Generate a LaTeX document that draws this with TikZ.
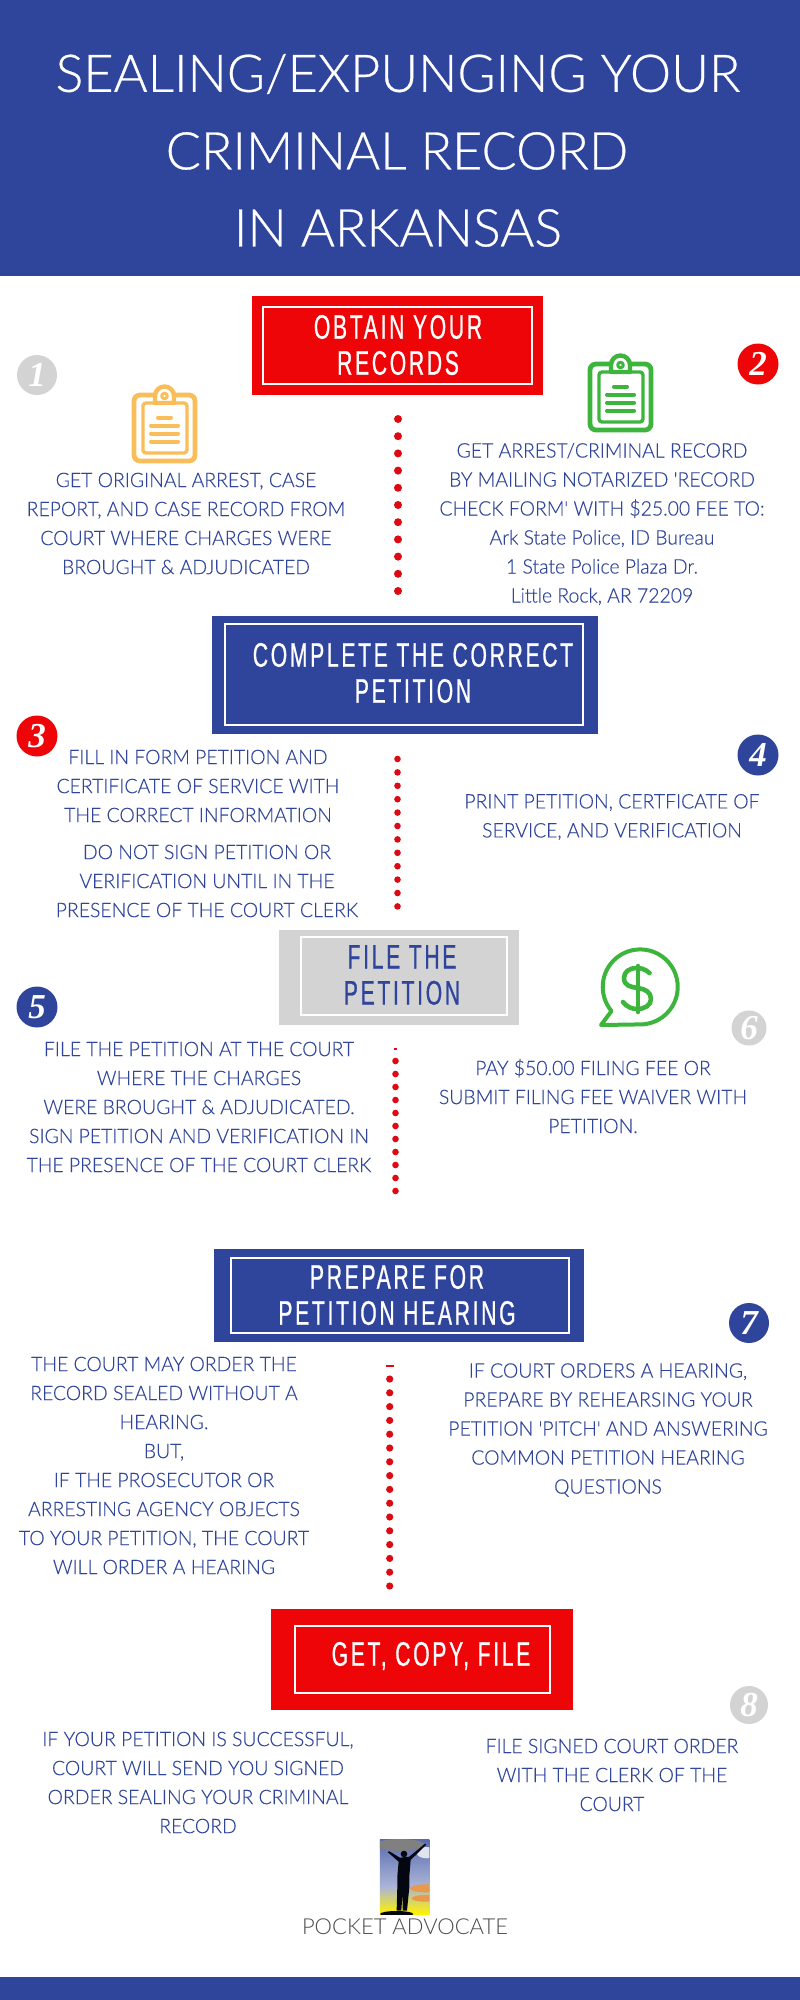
\documentclass[tikz,border=0pt]{standalone}
\usepackage{fontspec}
\setmainfont{Lato}
\newfontfamily\bodyfont[FakeStretch=0.97,FakeBold=0.25]{Lato Light}
\newfontfamily\titlefont[FakeBold=0.5]{Lato Light}
\newfontfamily\logofont{Lato Light}
\newfontfamily\headfont[FakeStretch=0.62,LetterSpace=8,FakeBold=0.7]{Liberation Sans}
\newfontfamily\numfont{Liberation Serif}
\definecolor{padblue}{HTML}{2F459B}
\definecolor{padred}{HTML}{EE0508}
\definecolor{padgrey}{HTML}{D3D3D3}
\definecolor{dotred}{HTML}{DD0A14}
\definecolor{padgreen}{HTML}{3DB53C}
\definecolor{padorange}{HTML}{F9BE5A}
\tikzstyle{band} = [fill=padblue, draw=none]
\tikzstyle{titletext} = [text=white, inner sep=0pt, font=\titlefont\fontsize{52}{52}\selectfont]
\tikzstyle{bodytext} = [text=padblue, inner sep=0pt, align=center, font=\bodyfont\fontsize{20}{29}\selectfont]
\tikzstyle{headtext} = [inner sep=0pt, align=center, font=\headfont\fontsize{34}{36}\selectfont]
\tikzstyle{outerbox} = [rectangle, inner sep=0pt, draw=none]
\tikzstyle{innerbox} = [rectangle, inner sep=0pt, draw=white, line width=1.6pt]
\tikzstyle{numdisc} = [circle, inner sep=0pt, text=white, font=\numfont\bfseries\itshape\fontsize{35}{35}\selectfont]
\tikzstyle{dotline} = [draw=dotred, line cap=round]
\newcommand{\clipicon}[3]{%
    \begin{scope}[shift={(#1,#2)}, draw=#3, line cap=round, line join=round]
        \draw[line width=4.8pt, rounded corners=6pt] (14,20) rectangle (75,86);
        \draw[line width=3.4pt, rounded corners=3pt] (23,28) rectangle (67,78);
        \draw[line width=4.4pt, fill=white] (35,21) arc[start angle=180, end angle=360, radius=9.5] -- (54,28) -- (35,28) -- cycle;
        \draw[line width=3pt, fill=white] (44.5,21) circle (2.8);
        \draw[line width=4pt] (38,42.5) -- (51,42.5);
        \draw[line width=4pt] (31,50.5) -- (58,50.5);
        \draw[line width=4pt] (31,58.5) -- (58,58.5);
        \draw[line width=4pt] (31,66.5) -- (58,66.5);
    \end{scope}}
\begin{document}
\begin{tikzpicture}[x=1pt, y=-1pt]
    \useasboundingbox (0,0) rectangle (800,2000);
    \fill[white] (0,0) rectangle (800,2000);
    \fill[band] (0,0) rectangle (800,276);
    \fill[band] (0,1977) rectangle (800,2000);
    \node[titletext] (title1) at (398,74) {SEALING/EXPUNGING YOUR};
    \node[titletext] (title2) at (397,151) {CRIMINAL RECORD};
    \node[titletext] (title3) at (398,228) {IN ARKANSAS};

    \node[outerbox, fill=padred, minimum width=291pt, minimum height=99pt] (obtainbox) at (397.5,345.5) {};
    \node[innerbox, minimum width=269pt, minimum height=77pt] (obtaininner) at (397.5,345.5) {};
    \node[headtext, text=white] (obtaintext) at (398,345) {OBTAIN YOUR\\RECORDS};

    \node[outerbox, fill=padblue, minimum width=386pt, minimum height=118pt] (petitionbox) at (405,675) {};
    \node[innerbox, minimum width=358pt, minimum height=101pt] (petitioninner) at (404,674.5) {};
    \node[headtext, text=white] (petitiontext) at (413,673) {COMPLETE THE CORRECT\\PETITION};

    \node[outerbox, fill=padgrey, minimum width=240pt, minimum height=95pt] (filebox) at (399,977.5) {};
    \node[innerbox, minimum width=206pt, minimum height=78pt] (fileinner) at (404,976) {};
    \node[headtext, text=padblue] (filetext) at (402,975) {FILE THE\\PETITION};

    \node[outerbox, fill=padblue, minimum width=370pt, minimum height=93pt] (hearingbox) at (399,1295.5) {};
    \node[innerbox, minimum width=338pt, minimum height=75pt] (hearinginner) at (400,1295.5) {};
    \node[headtext, text=white] (hearingtext) at (397,1295) {PREPARE FOR\\PETITION HEARING};

    \node[outerbox, fill=padred, minimum width=302pt, minimum height=101pt] (getbox) at (422,1659.5) {};
    \node[innerbox, minimum width=255pt, minimum height=67pt] (getinner) at (422.5,1659.5) {};
    \node[headtext, text=white] (gettext) at (431,1656) {GET, COPY, FILE};

    \node[numdisc, fill=padgrey, minimum size=40pt] (num1) at (37,375) {1};
    \node[numdisc, fill=padred, minimum size=41pt] (num2) at (758,364) {2};
    \node[numdisc, fill=padred, minimum size=41pt] (num3) at (37,736) {3};
    \node[numdisc, fill=padblue, minimum size=41pt] (num4) at (758,755) {4};
    \node[numdisc, fill=padblue, minimum size=41pt] (num5) at (37,1007) {5};
    \node[numdisc, fill=padgrey, minimum size=35pt] (num6) at (749,1028) {6};
    \node[numdisc, fill=padblue, minimum size=40pt] (num7) at (749,1323) {7};
    \node[numdisc, fill=padgrey, minimum size=38pt] (num8) at (749,1705) {8};

    \clipicon{120}{375}{padorange}
    \clipicon{576}{344}{padgreen}

    \begin{scope}[shift={(590,940)}, draw=padgreen, line cap=round, line join=round]
        \draw[line width=4pt] (21.5,71) arc[start angle=140, end angle=450, radius=37.5] -- (11,85) -- cycle;
        \draw[line width=4.6pt] (59.5,33) .. controls (55,29) and (51,28) .. (47,28) .. controls (39,28) and (34,32) .. (34,38) .. controls (34,46) and (41,47) .. (48,48) .. controls (55,49) and (61,52) .. (61,59) .. controls (61,65) and (55,69) .. (47,69) .. controls (42,69) and (37,67) .. (33,62);
        \draw[line width=4.6pt] (48,26) -- (48,72);
    \end{scope}

    \coordinate (dotsAtop) at (398,419);
    \coordinate (dotsAbot) at (398,591.5);
    \coordinate (dotsBtop) at (397.5,759);
    \coordinate (dotsBbot) at (397.5,906.5);
    \coordinate (dotsCtop) at (395.5,1061);
    \coordinate (dotsCbot) at (395.5,1191.5);
    \coordinate (dotsDtop) at (389.7,1379);
    \coordinate (dotsDbot) at (389.7,1586.5);
    \draw[dotline, line width=8pt, dash pattern=on 0pt off 17.2pt] (dotsAtop) -- (dotsAbot);
    \draw[dotline, line width=6.6pt, dash pattern=on 0pt off 13.4pt] (dotsBtop) -- (dotsBbot);
    \draw[dotline, line width=6.6pt, dash pattern=on 0pt off 13pt] (dotsCtop) -- (dotsCbot);
    \draw[dotline, line width=7.2pt, dash pattern=on 0pt off 13.8pt] (dotsDtop) -- (dotsDbot);
    \fill[dotred] (393.7,1048) rectangle (397.3,1049.5);
    \fill[dotred] (386,1365) rectangle (393.5,1366.5);

    \node[bodytext] (step1) at (186,523.5) {GET ORIGINAL ARREST, CASE\\REPORT, AND CASE RECORD FROM\\COURT WHERE CHARGES WERE\\BROUGHT \& ADJUDICATED};
    \node[bodytext] (step2) at (602,524) {GET ARREST/CRIMINAL RECORD\\BY MAILING NOTARIZED 'RECORD\\CHECK FORM' WITH \$25.00 FEE TO:\\Ark State Police, ID Bureau\\1 State Police Plaza Dr.\\Little Rock, AR 72209};
    \node[bodytext] (step3a) at (198,786) {FILL IN FORM PETITION AND\\CERTIFICATE OF SERVICE WITH\\THE CORRECT INFORMATION};
    \node[bodytext] (step3b) at (207,881) {DO NOT SIGN PETITION OR\\VERIFICATION UNTIL IN THE\\PRESENCE OF THE COURT CLERK};
    \node[bodytext] (step4) at (612,817) {PRINT PETITION, CERTFICATE OF\\SERVICE, AND VERIFICATION};
    \node[bodytext] (step5) at (199,1107) {FILE THE PETITION AT THE COURT\\WHERE THE CHARGES\\WERE BROUGHT \& ADJUDICATED.\\SIGN PETITION AND VERIFICATION IN\\THE PRESENCE OF THE COURT CLERK};
    \node[bodytext] (step6) at (593,1096) {PAY \$50.00 FILING FEE OR\\SUBMIT FILING FEE WAIVER WITH\\PETITION.};
    \node[bodytext] (step7a) at (164,1465.5) {THE COURT MAY ORDER THE\\RECORD SEALED WITHOUT A\\HEARING.\\BUT,\\IF THE PROSECUTOR OR\\ARRESTING AGENCY OBJECTS\\TO YOUR PETITION, THE COURT\\WILL ORDER A HEARING};
    \node[bodytext] (step7b) at (608,1430) {IF COURT ORDERS A HEARING,\\PREPARE BY REHEARSING YOUR\\PETITION 'PITCH' AND ANSWERING\\COMMON PETITION HEARING\\QUESTIONS};
    \node[bodytext] (step8a) at (198,1782.5) {IF YOUR PETITION IS SUCCESSFUL,\\COURT WILL SEND YOU SIGNED\\ORDER SEALING YOUR CRIMINAL\\RECORD};
    \node[bodytext] (step8b) at (612,1775) {FILE SIGNED COURT ORDER\\WITH THE CLERK OF THE\\COURT};

    \begin{scope}[shift={(200,1780)}, x=0.3333pt, y=-0.3333pt]
        \begin{scope}
            \clip (540,178) rectangle (688,402);
            \shade[top color=padblue!80!white, bottom color=padblue!40!white] (540,178) rectangle (688,320);
            \shade[top color=padblue!40!white, middle color=orange!45!white, bottom color=yellow!90!orange] (540,320) rectangle (688,402);
            \fill[gray] (600,195) ellipse (75 and 18);
            \fill[white!85!padblue] (680,218) ellipse (30 and 17);
            \fill[orange!55!brown!80!white] (680,325) ellipse (50 and 12);
            \fill[orange!55!brown!80!white] (675,355) ellipse (40 and 10);
            \fill[black!90!padblue] (612,222) circle (10);
            \fill[black!90!padblue] (563,216) -- (568,214) -- (600,233) -- (628,230) -- (675,191) -- (679,194) -- (632,240) -- (628,290) -- (628,322) -- (621,392) -- (608,392) -- (608,335) -- (604,392) -- (590,392) -- (592,322) -- (592,290) -- (596,245) -- cycle;
            \fill[black!90!padblue] (590,402) ellipse (50 and 9);
        \end{scope}
    \end{scope}
    \node[inner sep=0pt, text=black!70, font=\logofont\fontsize{22}{22}\selectfont] (logotext) at (405,1927) {POCKET ADVOCATE};
\end{tikzpicture}
\end{document}
